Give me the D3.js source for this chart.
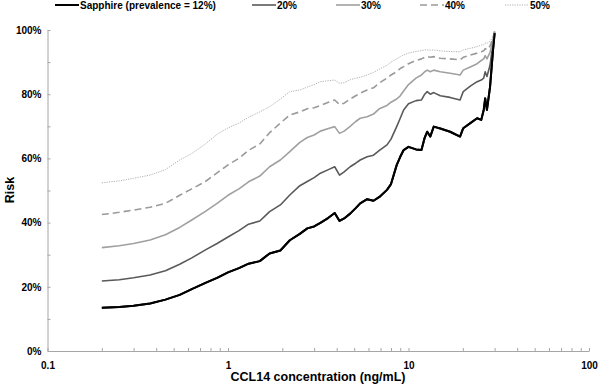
<!DOCTYPE html>
<html><head><meta charset="utf-8">
<script src="https://cdn.jsdelivr.net/npm/d3@7"></script>
<style>body{margin:0;background:#fff}svg{display:block;font-family:"Liberation Sans",Arial,sans-serif}</style>
</head><body><svg id="c" width="598" height="386"></svg>
<script>
const concentration=[0.2,0.25,0.3,0.37,0.45,0.54,0.63,0.75,0.87,1.0,1.15,1.3,1.5,1.7,1.95,2.2,2.5,2.75,3.0,3.25,3.6,3.9,4.15,4.4,4.75,5.1,5.4,5.9,6.4,6.9,7.6,8.0,8.6,9.0,9.4,10,11,11.8,12.3,12.7,13.2,13.8,15,17,19.3,20.1,22,24,25.3,26.1,26.6,27.2,28.3,29.4,30];
const risk12=[13.5,13.7,14.1,14.8,16.0,17.5,19.3,21.2,22.8,24.5,25.8,27.2,28.0,30.4,31.3,34.5,36.5,38.2,38.8,39.9,41.5,43.0,40.5,41.3,42.8,44.5,46.0,47.3,46.8,48.0,50.2,52.0,57.9,60.5,62.6,63.6,62.8,62.6,66.5,68.3,66.8,69.9,69.3,68.3,66.8,69.4,71.0,72.5,72.0,75.1,78.7,75.1,82.3,93.8,99.0];
const risk20=[21.8,22.2,22.8,23.7,25.0,27.0,29.0,31.5,33.5,35.5,37.5,39.5,40.5,43.4,45.5,48.6,51.5,52.8,54.0,55.4,56.5,57.4,54.8,55.8,57.4,58.5,59.5,60.5,61.0,62.5,64.2,66.0,69.9,72.5,75.1,77.0,78.0,78.2,80.0,80.8,80.0,80.5,79.5,79.0,78.2,80.8,82.5,83.9,84.4,85.0,87.0,85.5,89.0,96.0,99.3];
const risk30=[32.2,32.8,33.5,34.6,36.2,38.5,40.8,43.5,46.0,48.5,50.5,52.7,54.5,57.4,59.5,62.1,65.0,66.5,67.3,68.5,69.3,69.9,67.8,68.5,70.0,71.5,72.5,73.0,73.8,75.5,76.5,77.5,78.5,79.5,81.0,83.0,85.0,86.0,87.0,87.5,87.0,87.5,87.0,86.5,86.0,87.5,88.5,89.5,90.5,91.0,92.0,91.0,93.0,97.0,99.5];
const risk40=[42.5,43.2,43.9,44.8,46.0,48.5,50.5,52.8,55.5,58.0,60.0,62.5,64.5,68.0,71.0,73.5,74.5,75.5,75.8,76.5,77.5,78.2,76.8,77.2,78.5,79.5,80.3,81.3,82.0,83.5,85.0,86.0,87.0,88.0,88.6,89.5,90.5,91.0,91.5,91.7,91.5,91.7,91.2,91.0,90.7,91.5,92.2,92.8,93.2,93.5,94.2,93.8,95.0,97.5,99.6];
const risk50=[52.4,53.0,53.8,54.8,56.5,59.5,61.5,64.5,67.5,69.5,71.0,72.8,74.5,76.1,78.5,80.8,81.3,82.2,83.0,83.9,84.2,84.4,83.4,83.6,84.5,85.0,85.3,86.0,86.8,87.8,89.0,90.0,91.0,91.7,92.2,92.8,93.3,93.6,93.8,93.8,93.7,93.8,93.5,93.3,93.2,93.8,94.3,94.8,95.3,95.5,96.0,95.8,96.5,98.0,99.7];
const seriesNames=["Sapphire (prevalence = 12%)","20%","30%","40%","50%"];
const xTickLabels=[0.1,1,10,100];
const yTickLabels=[0,20,40,60,80,100];

const svg=d3.select("#c");
const x=d3.scaleLog().domain([0.1,100]).range([47.5,589]);
const y=d3.scaleLinear().domain([0,100]).range([351,30]);

const styles=[
 {color:"#000000",width:2,dash:null},
 {color:"#595959",width:1.6,dash:null},
 {color:"#a0a0a0",width:1.6,dash:null},
 {color:"#9a9a9a",width:1.6,dash:"7,4"},
 {color:"#b0b0b0",width:1,dash:"1.2,1.2"}
];
const allRisk=[risk12,risk20,risk30,risk40,risk50];

// axes
const minorX=[];
for(let e=-1;e<2;e++){for(let k=1;k<10;k++){minorX.push(k*Math.pow(10,e));}}
minorX.push(100);
const xAxis=d3.axisBottom(x).tickValues(minorX).tickSizeInner(-3).tickSizeOuter(0).tickPadding(11)
  .tickFormat(d=>xTickLabels.includes(+d.toPrecision(3))?String(+d.toPrecision(3)):"");
const gx=svg.append("g").attr("transform","translate(0,351)").call(xAxis);
const yAxis=d3.axisLeft(y).tickValues(d3.range(0,101,10)).tickSizeInner(-3).tickSizeOuter(0).tickPadding(6)
  .tickFormat(d=>yTickLabels.includes(d)?d+"%":"");
const gy=svg.append("g").attr("transform","translate(47.5,0)").call(yAxis);
[gx,gy].forEach(g=>{
  g.select(".domain").attr("stroke","#a6a6a6");
  g.selectAll(".tick line").attr("stroke","#a6a6a6");
  g.selectAll("text").attr("font-size",10).attr("fill","#000").attr("font-family","Liberation Sans, Arial, sans-serif").attr("font-weight","bold");
});

// lines
const line=d3.line().x((d,i)=>x(concentration[i])).y(d=>y(d));
allRisk.forEach((r,i)=>{
  const s=styles[i];
  svg.append("path").datum(r).attr("d",line).attr("fill","none")
    .attr("stroke",s.color).attr("stroke-width",s.width).attr("stroke-linejoin","round")
    .attr("stroke-dasharray",s.dash);
});
// redraw black on top
svg.append("path").datum(risk12).attr("d",line).attr("fill","none").attr("stroke","#000").attr("stroke-width",2).attr("stroke-linejoin","round");

// axis titles
svg.append("text").attr("x",318).attr("y",381).attr("text-anchor","middle").attr("font-size",12.5).attr("font-weight","bold").text("CCL14 concentration (ng/mL)");
svg.append("text").attr("transform","translate(14,190) rotate(-90)").attr("text-anchor","middle").attr("font-size",12.5).attr("font-weight","bold").text("Risk");

// legend
const legX=[55,252,336,420,505];
seriesNames.forEach((n,i)=>{
  const s=styles[i];
  const g=svg.append("g").attr("transform",`translate(${legX[i]},5)`);
  g.append("line").attr("x1",0).attr("x2",24).attr("y1",0).attr("y2",0)
    .attr("stroke",s.color).attr("stroke-width",s.width).attr("stroke-dasharray",s.dash);
  g.append("text").attr("x",25).attr("y",3.5).attr("font-size",10).attr("font-weight","bold").text(n);
});
</script></body></html>
